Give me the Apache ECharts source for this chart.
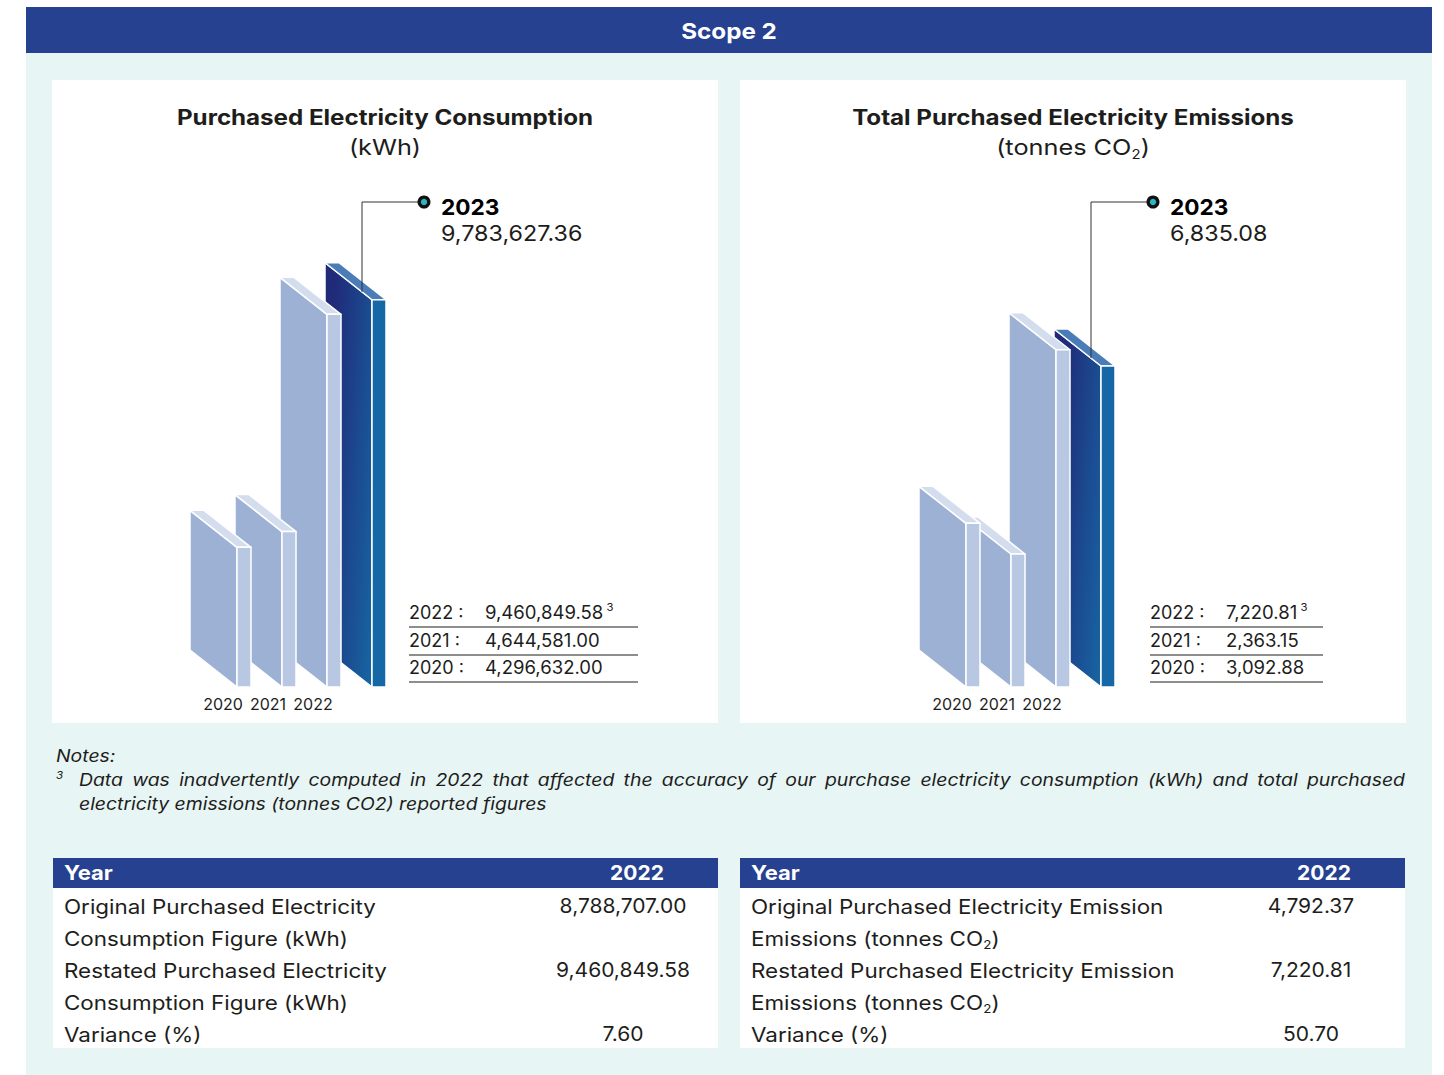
<!DOCTYPE html>
<html>
<head>
<meta charset="utf-8">
<title>Scope 2</title>
<script src="https://cdn.jsdelivr.net/npm/echarts@6/dist/echarts.min.js"></script>
<style>
  html, body { margin: 0; padding: 0; background: #ffffff; }
  #chart { width: 1444px; height: 1075px; }
</style>
</head>
<body>
<div id="chart"></div>
<script>
// ---- data ---------------------------------------------------------------
const years = ['2020', '2021', '2022', '2023'];
const consumptionKWh = [4296632.00, 4644581.00, 9460849.58, 9783627.36];
const emissionsTonnes = [3092.88, 2363.15, 7220.81, 6835.08];
const restatedYear = '2022';
const noteMark = '3';

const consumptionRestatementLabels = [
  ['Original Purchased Electricity', 'Consumption Figure (kWh)'],
  ['Restated Purchased Electricity', 'Consumption Figure (kWh)'],
  ['Variance (%)']
];
const consumptionRestatementValues = [8788707.00, 9460849.58, 7.60];

const emissionsRestatementLabels = [
  ['Original Purchased Electricity Emission', 'Emissions (tonnes CO_2)'],
  ['Restated Purchased Electricity Emission', 'Emissions (tonnes CO_2)'],
  ['Variance (%)']
];
const emissionsRestatementValues = [4792.37, 7220.81, 50.70];

const noteLines = [
  'Data was inadvertently computed in 2022 that affected the accuracy of our purchase electricity consumption (kWh) and total purchased',
  'electricity emissions (tonnes CO2) reported figures'
];

// ---- style --------------------------------------------------------------
const FONT = 'Inter, "Noto Sans", "DejaVu Sans", sans-serif';
const INK = '#1d1d1b';
const NAVY = '#26418f';
const MINT = '#e8f5f5';

// wide geometric lettering: words are drawn slightly extended
const WIDE_TEXT = 1.12;
const WIDE_NUM = 1.05;
const wideFor = s => (/[A-Za-z]/.test(s) ? WIDE_TEXT : WIDE_NUM);

const pastFaces = { side: '#9db1d5', front: '#b8c8e2', top: '#d3ddee' };
const currentFaces = {
  side: new echarts.graphic.LinearGradient(0, 0.35, 1, 1, [
    { offset: 0, color: '#202a79' },
    { offset: 1, color: '#1766a3' }
  ]),
  front: '#1568a5',
  top: '#4a7db7'
};

// slab geometry: narrow front face plus an oblique side face
const BAR = { frontW: 14, dx: 47, dy: 37, step: 45 };
const BASE_Y = 687;
const CALLOUT_Y = 202;

const fmt = v => v.toLocaleString('en-US', { minimumFractionDigits: 2, maximumFractionDigits: 2 });

const measureCtx = document.createElement('canvas').getContext('2d');
function font(size, weight, style) {
  return (style || 'normal') + ' ' + (weight || 'normal') + ' ' + size + 'px ' + FONT;
}
function textWidth(s, f) { measureCtx.font = f; return measureCtx.measureText(s).width; }

function label(x, y, text, f, extra, sx) {
  return {
    type: 'text', x: x, y: y, z: 10, silent: true,
    scaleX: sx || wideFor(text),
    style: Object.assign({
      text: text, font: f, fill: INK,
      textAlign: 'left', textVerticalAlign: 'middle', verticalAlign: 'middle'
    }, extra || {})
  };
}

// text run with "_2" style subscripts
function parseSub(str) {
  return str.split(/_(\d)/).map((t, k) => [t, k % 2 ? 'sub' : null]).filter(p => p[0] !== '');
}

function run(x, y, parts, size, weight, style, align, color, sxOverride) {
  const sx = sxOverride || wideFor(parts.map(p => p[0]).join(''));
  const fonts = parts.map(p => font(p[1] ? Math.round(size * 0.6) : size, weight, style));
  const widths = parts.map((p, k) => textWidth(p[0], fonts[k]) * sx);
  const total = widths.reduce((a, b) => a + b, 0);
  let cx = align === 'center' ? x - total / 2 : align === 'right' ? x - total : x;
  return parts.map((p, k) => {
    const dy = p[1] === 'sub' ? size * 0.32 : p[1] === 'sup' ? -size * 0.3 : 0;
    const el = label(cx, y + dy, p[0], fonts[k], { fill: color || INK }, sx);
    cx += widths[k];
    return el;
  });
}

function justified(x0, x1, y, str, f, sx) {
  const words = str.split(' ');
  const ws = words.map(w => textWidth(w, f) * sx);
  const gap = (x1 - x0 - ws.reduce((a, b) => a + b, 0)) / (words.length - 1);
  let x = x0;
  return words.map((w, k) => { const el = label(x, y, w, f, null, sx); x += ws[k] + gap; return el; });
}

// ---- panels --------------------------------------------------------------
const charts = [
  {
    x: 52, w: 666,
    title: 'Purchased Electricity Consumption',
    unit: '(kWh)',
    values: consumptionKWh,
    yMin: 1200000, yMax: 10000000,
    barsLeft: 221.5, plotTop: 290,
    listX: 409, listW: 229
  },
  {
    x: 740, w: 666,
    title: 'Total Purchased Electricity Emissions',
    unit: '(tonnes CO_2)',
    values: emissionsTonnes,
    yMin: -800, yMax: 8000,
    barsLeft: 950.5, plotTop: 317,
    listX: 1150, listW: 173
  }
];

const tables = [
  { x: 53, w: 665, labels: consumptionRestatementLabels, values: consumptionRestatementValues, valueX: 623, headX: 637 },
  { x: 740, w: 665, labels: emissionsRestatementLabels, values: emissionsRestatementValues, valueX: 1311, headX: 1324 }
];

const elements = [];

// page frame
elements.push({ type: 'rect', z: 0, silent: true, shape: { x: 26, y: 53, width: 1406, height: 1022 }, style: { fill: MINT } });
elements.push({ type: 'rect', z: 0, silent: true, shape: { x: 26, y: 7, width: 1406, height: 46 }, style: { fill: NAVY } });
elements.push(label(729, 31, 'Scope 2', font(22, 'bold'), { fill: '#ffffff', textAlign: 'center' }, 1.1));

charts.forEach(c => {
  const mid = c.x + c.w / 2;
  elements.push({ type: 'rect', z: 1, silent: true, shape: { x: c.x, y: 80, width: c.w, height: 643 }, style: { fill: '#ffffff' } });
  elements.push(label(mid, 117, c.title, font(21, 'bold'), { textAlign: 'center' }, 1.15));
  elements.push.apply(elements, run(mid, 147, parseSub(c.unit), 22, 'normal', 'normal', 'center', INK, 1.15));

  // value list, latest year first (current year is shown in the callout)
  const rowY = [612, 640, 667];
  const lineY = [627, 655, 682];
  for (let r = 0; r < years.length - 1; r++) {
    const i = years.length - 2 - r;
    elements.push(label(c.listX, rowY[r], years[i] + ' :', font(18), null, 1.0));
    const parts = [[fmt(c.values[i]), null]];
    if (years[i] === restatedYear) parts.push([' ' + noteMark, 'sup']);
    elements.push.apply(elements, run(c.listX + 76, rowY[r], parts, 18, 'normal', 'normal', 'left', INK, 1.03));
    elements.push({
      type: 'line', z: 10, silent: true,
      shape: { x1: c.listX, y1: lineY[r], x2: c.listX + c.listW, y2: lineY[r] },
      style: { stroke: '#1d1d1b', lineWidth: 1 }
    });
  }
});

// notes
const noteFont = font(17, 'normal', 'italic');
elements.push(label(56, 755, 'Notes:', noteFont, null, 1.14));
elements.push(label(56, 775, noteMark, font(11, 'normal', 'italic')));
elements.push.apply(elements, justified(79, 1405, 779, noteLines[0], noteFont, 1.14));
elements.push(label(79, 803, noteLines[1], noteFont, null, 1.14));

// restatement tables
tables.forEach(t => {
  elements.push({ type: 'rect', z: 1, silent: true, shape: { x: t.x, y: 858, width: t.w, height: 30 }, style: { fill: NAVY } });
  elements.push({ type: 'rect', z: 1, silent: true, shape: { x: t.x, y: 888, width: t.w, height: 160 }, style: { fill: '#ffffff' } });
  elements.push(label(t.x + 11, 873, 'Year', font(20, 'bold'), { fill: '#ffffff' }, 1.1));
  elements.push(label(t.headX, 873, restatedYear, font(20, 'bold'), { fill: '#ffffff', textAlign: 'center' }));
  let line = 0;
  t.labels.forEach((rowLabel, r) => {
    const y0 = 906 + line * 32;
    elements.push(label(t.valueX, y0, fmt(t.values[r]), font(20), { textAlign: 'center' }));
    rowLabel.forEach((ln, k) => {
      elements.push.apply(elements, run(t.x + 11, 906 + (line + k) * 32, parseSub(ln), 20, 'normal', 'normal', 'left'));
    });
    line += rowLabel.length;
  });
});

// ---- slab renderer ---------------------------------------------------------
function makeRenderer(c) {
  return function (params, api) {
    const i = api.value(0);
    const v = api.value(1);
    const top = api.coord([i, v]);
    const base = api.coord([i, c.yMin]);
    const cx = top[0], ty = top[1], by = base[1];
    const fl = cx - BAR.frontW / 2, fr = cx + BAR.frontW / 2;
    const current = i === years.length - 1;
    const faces = current ? currentFaces : pastFaces;
    const z = (years.length - i) * 5;
    const edge = { stroke: '#ffffff', lineWidth: 1.5, lineJoin: 'round' };
    const children = [
      {
        type: 'polygon', z2: z,
        shape: { points: [[fl - BAR.dx, ty - BAR.dy], [fl, ty], [fl, by], [fl - BAR.dx, by - BAR.dy]] },
        style: Object.assign({ fill: faces.side }, edge)
      },
      {
        type: 'polygon', z2: z + 1,
        shape: { points: [[fl - BAR.dx, ty - BAR.dy], [fl, ty], [fr, ty], [fr - BAR.dx, ty - BAR.dy]] },
        style: Object.assign({ fill: faces.top }, edge)
      },
      {
        type: 'rect', z2: z + 2,
        shape: { x: fl, y: ty, width: fr - fl, height: by - ty },
        style: Object.assign({ fill: faces.front }, edge)
      }
    ];
    if (current) {
      const lx = fl - 10;
      const ly = ty - 10 * BAR.dy / BAR.dx;
      const dotX = lx + 62;
      children.push(
        { type: 'polyline', z2: 60, shape: { points: [[lx, ly], [lx, CALLOUT_Y], [dotX, CALLOUT_Y]] }, style: { stroke: '#333333', lineWidth: 1, fill: null } },
        { type: 'circle', z2: 61, shape: { cx: dotX, cy: CALLOUT_Y, r: 6.5 }, style: { fill: '#111111' } },
        { type: 'circle', z2: 62, shape: { cx: dotX, cy: CALLOUT_Y, r: 3.2 }, style: { fill: '#2bb6c0' } },
        { type: 'text', z2: 63, x: dotX + 17, y: CALLOUT_Y + 5, scaleX: 1.03, style: { text: years[i], font: font(22, 'bold'), fill: '#000000', textVerticalAlign: 'middle', verticalAlign: 'middle' } },
        { type: 'text', z2: 63, x: dotX + 17, y: CALLOUT_Y + 31, scaleX: 1.06, style: { text: fmt(v), font: font(22), fill: INK, textVerticalAlign: 'middle', verticalAlign: 'middle' } }
      );
    }
    return { type: 'group', children: children };
  };
}

// ---- chart -----------------------------------------------------------------
const chart = echarts.init(document.getElementById('chart'), null, { renderer: 'svg', width: 1444, height: 1075 });

chart.setOption({
  animation: false,
  backgroundColor: '#ffffff',
  graphic: { elements: elements },
  grid: charts.map(c => ({
    left: c.barsLeft, top: c.plotTop,
    width: BAR.step * years.length, height: BASE_Y - c.plotTop
  })),
  xAxis: charts.map((c, k) => ({
    type: 'category', gridIndex: k, data: years, z: 12,
    axisLine: { show: false }, axisTick: { show: false }, splitLine: { show: false },
    axisLabel: {
      interval: 0, margin: 9, fontSize: 16, fontFamily: FONT, color: INK,
      padding: [0, 42, 0, 0],
      formatter: (val, idx) => (idx === years.length - 1 ? '' : val)
    }
  })),
  yAxis: charts.map((c, k) => ({ type: 'value', gridIndex: k, min: c.yMin, max: c.yMax, show: false })),
  series: charts.map((c, k) => ({
    type: 'custom', xAxisIndex: k, yAxisIndex: k, z: 5, clip: false, silent: true,
    renderItem: makeRenderer(c),
    encode: { x: 0, y: 1 },
    data: c.values.map((v, i) => [i, v])
  }))
});
</script>
</body>
</html>
